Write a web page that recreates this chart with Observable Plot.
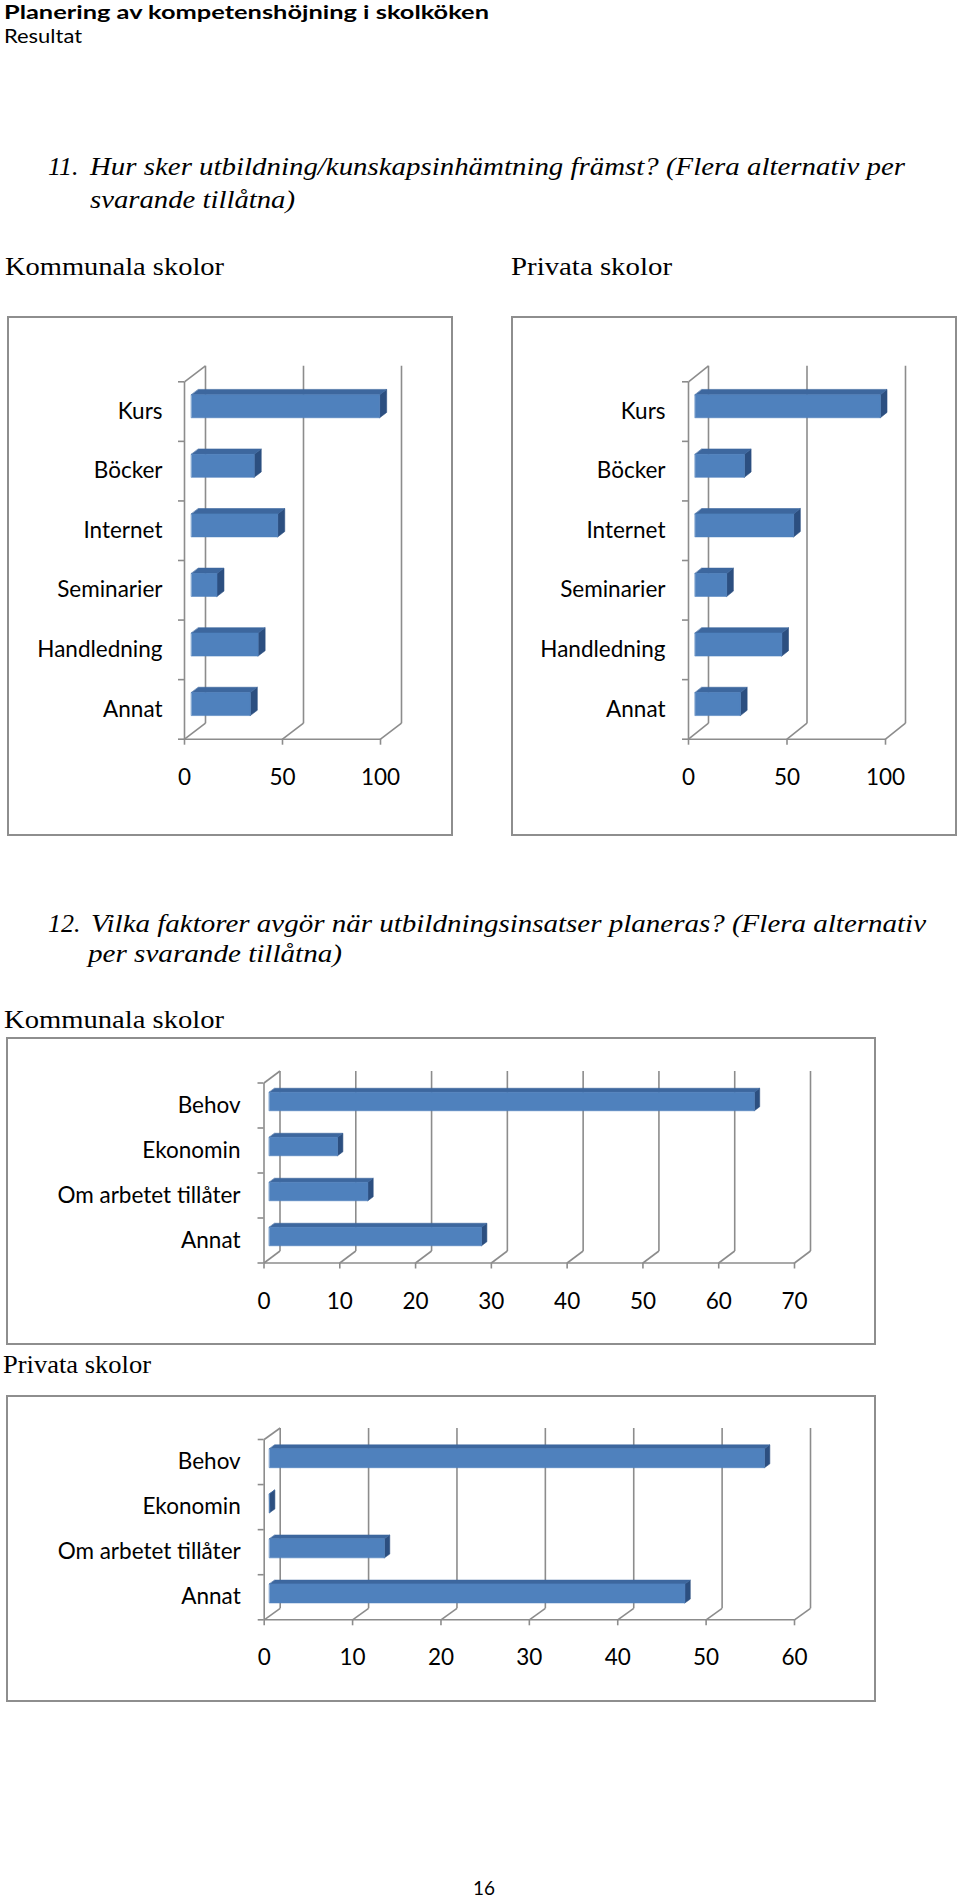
<!DOCTYPE html>
<html><head><meta charset="utf-8">
<script src="https://cdn.jsdelivr.net/npm/d3@7"></script>
<script src="https://cdn.jsdelivr.net/npm/@observablehq/plot@0.6"></script>
<style>
body{margin:0;background:#fff;}
#page{position:relative;width:960px;height:1901px;overflow:hidden;background:#fff;}
.t{position:absolute;white-space:nowrap;line-height:1;color:#000;}
.frame{position:absolute;border:2px solid #8e8e8e;box-sizing:border-box;pointer-events:none;}
</style></head><body><div id="page"></div>
<script>
// ---------- data ----------
const q11Categories = ["Kurs", "Böcker", "Internet", "Seminarier", "Handledning", "Annat"];
const q11Kommunala = [96, 32, 44, 13, 34, 30];
const q11Privata = [94, 25, 50, 16, 44, 23];
const q11Ticks = [0, 50, 100];

const q12Categories = ["Behov", "Ekonomin", "Om arbetet tillåter", "Annat"];
const q12Kommunala = [64, 9, 13, 28];
const q12Privata = [56, 0, 13, 47];
const q12TicksKommunala = [0, 10, 20, 30, 40, 50, 60, 70];
const q12TicksPrivata = [0, 10, 20, 30, 40, 50, 60];

// ---------- page text ----------
const page = document.getElementById("page");
function addText(str, x, baseline, o = {}) {
  const d = document.createElement("div");
  d.className = "t";
  const size = o.size || 26;
  Object.assign(d.style, {
    left: x + "px", top: "0px",
    fontFamily: o.font || "'Liberation Serif', 'Times New Roman', serif",
    fontSize: size + "px", fontStyle: o.style || "normal", fontWeight: o.weight || "normal"
  });
  d.appendChild(document.createTextNode(str));
  const m = document.createElement("span");
  m.style.cssText = "display:inline-block;width:0;height:0;vertical-align:baseline;";
  d.appendChild(m);
  page.appendChild(d);
  const b = m.offsetTop;
  d.style.top = (baseline - b) + "px";
  if (o.width) {
    const w = d.getBoundingClientRect().width;
    d.style.transformOrigin = "0 0";
    d.style.transform = `scaleX(${o.width / w})`;
  }
  return d;
}
const gill = "Lato, 'Open Sans', sans-serif";
addText("Planering av kompetenshöjning i skolköken", 4, 19, {font: gill, size: 19.5, weight: "bold", width: 485});
addText("Resultat", 4, 43, {font: gill, size: 19.5, width: 78});

addText("11.", 48, 175, {style: "italic", size: 26});
addText("Hur sker utbildning/kunskapsinhämtning främst? (Flera alternativ per", 90, 175, {style: "italic", size: 26, width: 815});
addText("svarande tillåtna)", 90, 208, {style: "italic", size: 26, width: 205});
addText("Kommunala skolor", 5, 275, {size: 26, width: 219});
addText("Privata skolor", 511, 275, {size: 26, width: 161});

addText("12.", 48, 932, {style: "italic", size: 26});
addText("Vilka faktorer avgör när utbildningsinsatser planeras? (Flera alternativ", 90.5, 932, {style: "italic", size: 26, width: 835});
addText("per svarande tillåtna)", 88, 962, {style: "italic", size: 26, width: 254});
addText("Kommunala skolor", 4, 1028, {size: 26, width: 220});
addText("Privata skolor", 3, 1373, {size: 26, width: 148});

addText("16", 473, 1895, {font: gill, size: 19, width: 22});

// ---------- 3D bar chart ----------
const FRONT = "#4f81bd", TOP = "#3d679e", SIDE = "#2c4f80", WALL = "#8c8c8c";

function bar3d(cfg) {
  const {categories, values, ticks, fx, fy, fw, fh, left, right, top, bottom,
         depthX, depthY, barPx, labelGap, tickLabelGap, fontSize} = cfg;
  const n = categories.length;
  const xmax = ticks[ticks.length - 1];
  const pxX = (fw - left - right) / xmax;
  const pxY = (fh - top - bottom) / n;
  const DX = depthX / pxX, DY = depthY / pxY;     // wall depth in data units
  const h = barPx / pxY / 2;                       // half bar thickness
  const f0 = 1 / 3, f1 = 2 / 3;                    // bar depth position within wall
  const rows = categories.map((c, i) => ({c, v: values[i], yc: n - i - 0.5}));
  const pts = [];
  rows.forEach((r, i) => {
    const ax = f0 * DX, ay = f0 * DY, bx = f1 * DX, by = f1 * DY, v = r.v;
    const lo = r.yc - h, hi = r.yc + h;
    const push = (face, arr) => arr.forEach(([x, y]) => pts.push({id: face + i, face, x, y}));
    push("side", [[v + ax, lo + ay], [v + bx, lo + by], [v + bx, hi + by], [v + ax, hi + ay]]);
    push("top", [[ax, hi + ay], [v + ax, hi + ay], [v + bx, hi + by], [bx, hi + by]]);
    push("front", [[ax, lo + ay], [v + ax, lo + ay], [v + ax, hi + ay], [ax, hi + ay]]);
  });
  const face = (name, color) => Plot.line(pts.filter(p => p.face === name),
    {x: "x", y: "y", z: "id", fill: color, stroke: color, strokeWidth: 0.6, curve: "linear-closed"});

  // wall lines
  const links = [];
  ticks.forEach(t => {
    links.push({x1: t + DX, y1: DY, x2: t + DX, y2: n + DY});   // back wall grid line
    links.push({x1: t, y1: 0, x2: t + DX, y2: DY});             // floor diagonal
  });
  links.push({x1: 0, y1: 0, x2: 0, y2: n});                      // front y axis
  links.push({x1: 0, y1: n, x2: DX, y2: n + DY});                // top diagonal
  links.push({x1: 0, y1: 0, x2: xmax, y2: 0});                   // front x axis

  const svg = Plot.plot({
    width: fw, height: fh,
    marginLeft: left, marginRight: right, marginTop: top, marginBottom: bottom,
    x: {domain: [0, xmax], axis: null},
    y: {domain: [0, n], axis: null},
    style: {fontFamily: "Lato, 'Open Sans', sans-serif", fontSize: fontSize + "px",
            background: "transparent", overflow: "visible", color: "#000"},
    marks: [
      Plot.link(links, {x1: "x1", y1: "y1", x2: "x2", y2: "y2", stroke: WALL, strokeWidth: 1.6}),
      Plot.ruleX(ticks, {x: d => d, y1: 0, y2: -6 / pxY, stroke: WALL, strokeWidth: 1.6}),
      Plot.ruleY(d3.range(n + 1), {y: d => d, x1: 0, x2: -6 / pxX, stroke: WALL, strokeWidth: 1.6}),
      face("side", SIDE),
      face("top", TOP),
      face("front", FRONT),
      Plot.text(rows, {x: 0, y: "yc", text: "c", textAnchor: "end", dx: -labelGap, fill: "#000"}),
      Plot.text(ticks, {x: d => d, y: 0, text: d => String(d), dy: tickLabelGap, fill: "#000"})
    ]
  });
  svg.style.position = "absolute";
  svg.style.left = fx + "px";
  svg.style.top = fy + "px";
  page.appendChild(svg);
  const fr = document.createElement("div");
  fr.className = "frame";
  Object.assign(fr.style, {left: fx + "px", top: fy + "px", width: fw + "px", height: fh + "px"});
  page.appendChild(fr);
}

bar3d({categories: q11Categories, values: q11Kommunala, ticks: q11Ticks,
  fx: 7, fy: 316, fw: 446, fh: 520, left: 177, right: 73, top: 65.3, bottom: 97.3,
  depthX: 21, depthY: 16, barPx: 23, labelGap: 22, tickLabelGap: 38.6, fontSize: 22.5});
bar3d({categories: q11Categories, values: q11Privata, ticks: q11Ticks,
  fx: 511, fy: 316, fw: 446, fh: 520, left: 177, right: 72, top: 65.3, bottom: 97.3,
  depthX: 20, depthY: 16, barPx: 23, labelGap: 23, tickLabelGap: 38.6, fontSize: 22.5});
bar3d({categories: q12Categories, values: q12Kommunala, ticks: q12TicksKommunala,
  fx: 6, fy: 1037, fw: 870, fh: 308, left: 257.5, right: 82, top: 45.5, bottom: 82.5,
  depthX: 16, depthY: 12, barPx: 18.5, labelGap: 23.5, tickLabelGap: 39, fontSize: 22.5});
bar3d({categories: q12Categories, values: q12Privata, ticks: q12TicksPrivata,
  fx: 6, fy: 1395, fw: 870, fh: 307, left: 257.7, right: 82, top: 44, bottom: 82.7,
  depthX: 16, depthY: 11.5, barPx: 19, labelGap: 23.5, tickLabelGap: 38, fontSize: 22.5});
</script></body></html>
